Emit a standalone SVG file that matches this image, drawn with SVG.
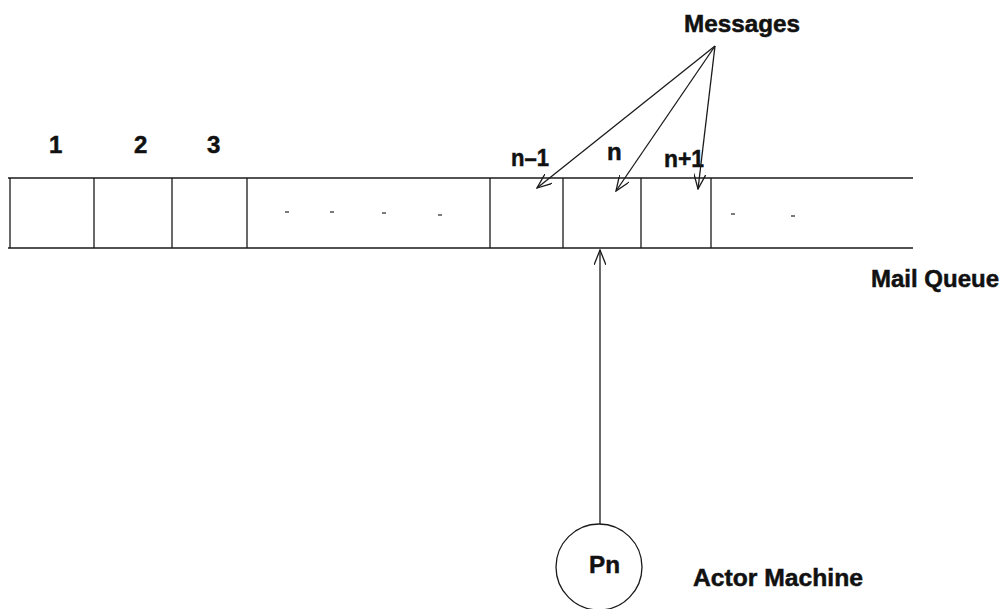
<svg xmlns="http://www.w3.org/2000/svg" width="1008" height="609" viewBox="0 0 1008 609">
  <style>
    .ln { stroke: #1a1a1a; stroke-width: 1.3; fill: none; }
    .lbl { font-family: "Liberation Sans", Arial, sans-serif; font-weight: bold; font-size: 24px; fill: #111; stroke: #111; stroke-width: 0.5; }
    .dot { stroke: #333; stroke-width: 1.3; }
  </style>
  <defs>
    <marker id="open" viewBox="0 0 16 12" refX="15" refY="6" markerWidth="16" markerHeight="12" markerUnits="userSpaceOnUse" orient="auto">
      <path d="M0,0 L15,6 L0,12" fill="none" stroke="#1a1a1a" stroke-width="1.3"/>
    </marker>
  </defs>
  <rect width="1008" height="609" fill="#fff"/>

  <!-- mail queue: long strip split into slots -->
  <g id="mail-queue">
    <line class="ln" x1="8" y1="178" x2="913" y2="178"/>
    <line class="ln" x1="8" y1="248" x2="913" y2="248"/>
    <line class="ln" x1="10" y1="178" x2="10" y2="248"/>
    <line class="ln" x1="94" y1="178" x2="94" y2="248"/>
    <line class="ln" x1="172" y1="178" x2="172" y2="248"/>
    <line class="ln" x1="247" y1="178" x2="247" y2="248"/>
    <line class="ln" x1="490" y1="178" x2="490" y2="248"/>
    <line class="ln" x1="563" y1="178" x2="563" y2="248"/>
    <line class="ln" x1="641" y1="178" x2="641" y2="248"/>
    <line class="ln" x1="711" y1="178" x2="711" y2="248"/>
    <!-- elided slots -->
    <line class="dot" x1="285" y1="212" x2="289" y2="212"/>
    <line class="dot" x1="330" y1="212" x2="334" y2="212"/>
    <line class="dot" x1="382" y1="213" x2="386" y2="213"/>
    <line class="dot" x1="438" y1="215" x2="442" y2="215"/>
    <line class="dot" x1="731" y1="214" x2="735" y2="214"/>
    <line class="dot" x1="791" y1="216" x2="795" y2="216"/>
    <text class="lbl" x="871" y="287" textLength="128" lengthAdjust="spacingAndGlyphs">Mail Queue</text>
  </g>

  <!-- slot labels -->
  <g id="slot-labels">
    <text class="lbl" x="49" y="153">1</text>
    <text class="lbl" x="134" y="153">2</text>
    <text class="lbl" x="207" y="153">3</text>
    <text class="lbl" x="511" y="166" textLength="38" lengthAdjust="spacingAndGlyphs">n–1</text>
    <text class="lbl" x="607" y="160">n</text>
    <text class="lbl" x="664" y="167" textLength="40" lengthAdjust="spacingAndGlyphs">n+1</text>
  </g>

  <g id="messages">
    <text class="lbl" x="684" y="32" textLength="116" lengthAdjust="spacingAndGlyphs">Messages</text>
  </g>

  <g id="actor-machine">
    <circle class="ln" cx="599" cy="567" r="43"/>
    <text class="lbl" x="589" y="573" textLength="31" lengthAdjust="spacingAndGlyphs">Pn</text>
    <text class="lbl" x="693" y="586" textLength="170" lengthAdjust="spacingAndGlyphs">Actor Machine</text>
  </g>

  <!-- connectors -->
  <g id="connectors">
    <line class="ln" x1="715" y1="46" x2="537" y2="188" marker-end="url(#open)"/>
    <line class="ln" x1="715" y1="46" x2="616" y2="191" marker-end="url(#open)"/>
    <line class="ln" x1="715" y1="46" x2="698" y2="189" marker-end="url(#open)"/>
    <line class="ln" x1="600" y1="524" x2="600" y2="250" marker-end="url(#open)"/>
  </g>
</svg>
